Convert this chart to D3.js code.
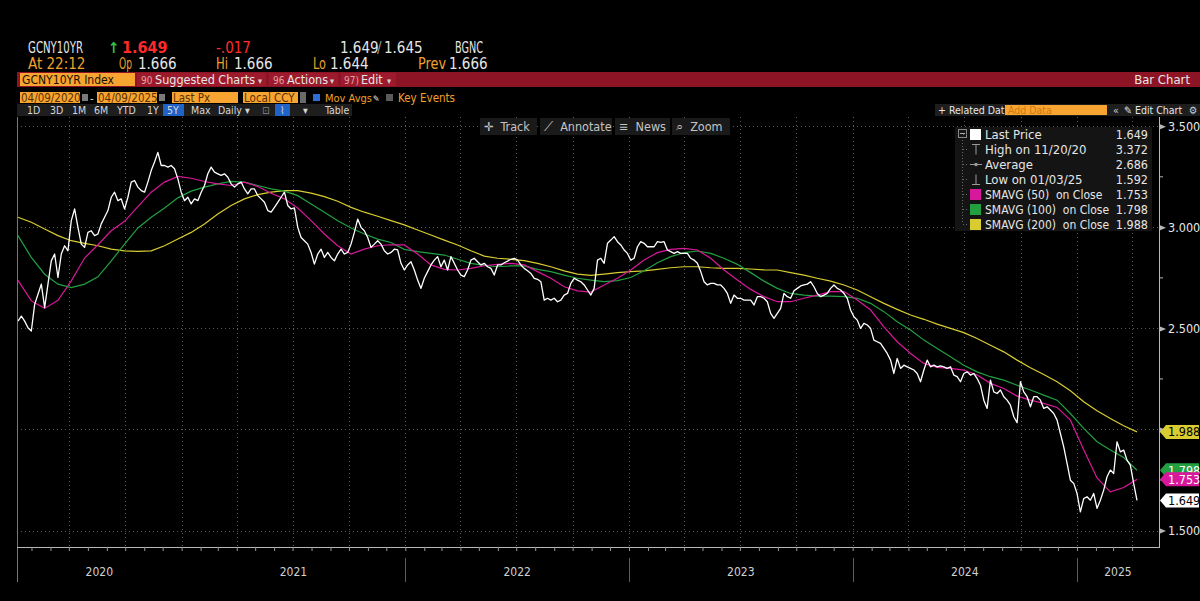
<!DOCTYPE html>
<html><head><meta charset="utf-8">
<script src="https://cdn.jsdelivr.net/npm/d3@7"></script>
<style>
html,body{margin:0;padding:0;background:#000;overflow:hidden;}
svg{display:block;}
text{font-family:'Liberation Sans Narrow','DejaVu Sans Condensed','Roboto Condensed',Roboto,sans-serif;white-space:pre;}
</style></head><body>
<svg id="c" width="1200" height="601"></svg>
<script>
// ---------- DATA ----------
const startDate = "2020-04-09";
const endDate = "2025-04-09";

// GCNY10YR last price, evenly spaced samples from startDate to endDate
const lastPrice = [
2.536,2.561,2.536,2.503,2.487,2.619,2.669,2.719,2.603,2.719,
2.834,2.868,2.752,2.868,2.909,2.884,3.033,3.091,3.000,2.917,
2.901,2.975,2.983,2.959,2.967,3.017,3.050,3.083,3.149,3.174,
3.132,3.141,3.091,3.149,3.224,3.232,3.199,3.182,3.174,3.224,
3.281,3.323,3.371,3.306,3.306,3.298,3.306,3.290,3.240,3.174,
3.132,3.149,3.116,3.141,3.132,3.174,3.207,3.265,3.298,3.273,
3.265,3.257,3.265,3.248,3.215,3.199,3.215,3.224,3.190,3.166,
3.190,3.190,3.157,3.141,3.124,3.083,3.075,3.099,3.124,3.149,
3.174,3.108,3.091,3.096,3.000,2.950,2.934,2.917,2.876,2.818,
2.868,2.892,2.851,2.876,2.851,2.834,2.868,2.892,2.868,2.876,
2.917,2.975,3.041,3.000,2.983,2.950,2.901,2.917,2.934,2.917,
2.884,2.868,2.876,2.892,
2.888,2.822,2.789,2.814,2.830,2.789,2.739,2.698,2.748,2.781,
2.814,2.838,2.855,2.805,2.838,2.789,2.855,2.822,2.789,2.764,
2.756,2.789,2.838,2.847,2.830,2.814,2.822,2.805,2.797,2.764,
2.814,2.814,2.825,2.833,2.842,2.847,2.838,2.814,2.797,2.785,
2.772,2.748,2.743,2.731,2.640,2.649,2.640,2.649,2.632,2.640,
2.665,2.673,2.723,2.748,2.739,2.731,2.715,2.690,2.665,2.698,
2.838,2.847,2.822,2.921,2.937,2.954,2.929,2.913,2.888,2.871,
2.838,2.847,2.904,2.929,2.921,2.904,2.904,2.904,2.929,2.926,
2.929,2.888,2.880,2.871,2.880,2.871,2.871,2.871,2.847,2.838,
2.822,2.781,2.731,2.715,2.723,2.723,2.715,2.715,2.698,2.673,
2.624,2.665,2.649,2.649,2.640,2.640,2.640,2.616,2.657,2.657,
2.649,2.632,
2.574,2.550,2.574,2.599,2.673,2.657,2.649,2.686,2.698,2.710,
2.715,2.719,2.731,2.706,2.673,2.657,2.665,2.673,2.698,2.715,
2.698,2.690,2.673,2.649,2.591,2.558,2.541,2.500,2.525,2.517,
2.500,2.442,2.434,2.426,2.401,2.376,2.343,2.277,2.351,2.302,
2.318,2.310,2.302,2.294,2.277,2.236,2.294,2.343,2.310,2.318,
2.310,2.314,2.310,2.302,2.310,2.269,2.261,2.236,2.277,2.285,
2.269,2.277,2.252,2.219,2.145,2.104,2.244,2.186,2.178,2.195,
2.162,2.145,2.120,2.063,2.033,2.236,2.186,2.162,2.112,2.162,
2.162,2.145,2.104,2.112,2.096,2.079,2.046,1.980,1.914,1.832,
1.749,1.733,1.683,1.592,1.658,1.667,1.650,1.683,1.610,1.650,
1.700,1.766,1.799,1.782,1.939,1.889,1.898,1.848,1.823,1.733,
1.649
];

// Moving averages, evenly spaced samples from startDate to endDate
const smavg50 = [
2.738,2.636,2.599,2.639,2.735,2.848,2.914,2.983,3.030,3.103,3.174,3.224,3.252,3.243,3.227,3.215,3.207,3.224,3.202,3.169,3.141,3.096,3.033,2.967,2.909,2.868,2.892,2.909,2.914,
2.913,2.868,2.814,2.792,2.789,2.797,2.810,2.817,2.822,2.814,2.781,2.748,2.706,2.686,2.680,2.715,2.748,2.789,2.838,2.875,2.891,2.896,2.888,2.847,2.789,2.739,2.693,2.657,
2.632,2.632,2.649,2.665,2.682,2.682,2.640,2.591,2.508,2.434,2.376,2.327,2.307,2.302,2.294,2.269,2.228,2.203,2.165,2.145,2.129,2.109,2.046,1.900,1.760,1.691,1.713,1.753
];
const smavg100 = [
2.959,2.851,2.768,2.719,2.702,2.719,2.755,2.834,2.917,2.997,3.050,3.096,3.146,3.179,3.199,3.215,3.227,3.224,3.207,3.190,3.179,3.157,3.116,3.075,3.033,2.997,2.967,2.942,2.925,
2.891,2.880,2.871,2.863,2.842,2.822,2.812,2.805,2.809,2.809,2.792,2.781,2.764,2.748,2.739,2.731,2.736,2.752,2.785,2.825,2.855,2.875,2.883,2.871,2.847,2.817,2.776,2.734,
2.698,2.673,2.665,2.660,2.660,2.657,2.649,2.624,2.583,2.533,2.492,2.442,2.401,2.360,2.318,2.285,2.261,2.244,2.219,2.195,2.170,2.145,2.079,2.005,1.939,1.898,1.861,1.798
];
const smavg200 = [
3.050,3.025,2.992,2.959,2.934,2.921,2.909,2.892,2.884,2.881,2.884,2.909,2.942,2.975,3.017,3.066,3.108,3.141,3.162,3.174,3.182,3.182,3.169,3.152,3.129,3.099,3.075,3.055,3.033,
3.012,2.987,2.962,2.937,2.913,2.884,2.858,2.847,2.842,2.835,2.822,2.805,2.785,2.769,2.762,2.769,2.776,2.781,2.785,2.792,2.800,2.805,2.805,2.800,2.797,2.797,2.794,2.790,
2.789,2.776,2.764,2.748,2.734,2.715,2.690,2.657,2.624,2.594,2.566,2.545,2.521,2.500,2.479,2.450,2.417,2.384,2.343,2.305,2.272,2.236,2.191,2.137,2.092,2.054,2.018,1.988
];

const yTicks = [1.5, 2.0, 2.5, 3.0, 3.5];
const yMinorTicks = [1.75, 2.25, 2.75, 3.25];
const yearLabels = ["2020","2021","2022","2023","2024","2025"];

const legendLabels = ["Last Price","High on 11/20/20","Average","Low on 01/03/25","SMAVG (50)  on Close","SMAVG (100)  on Close","SMAVG (200)  on Close"];
const legendValues = ["1.649","3.372","2.686","1.592","1.753","1.798","1.988"];

// ---------- STYLE ----------
const C = {
  price:"#ffffff", ma50:"#d8189a", ma100:"#22a040", ma200:"#d8cc30",
  amber:"#f0a02c", orange:"#f7a530", red:"#8c1424", redSeg:"#9c1a2c",
  grid:"#5a5a5a", axis:"#b8b8b8", txt:"#e6e6e6"
};

const svg = d3.select("#c");
const parse = d3.timeParse("%Y-%m-%d");
const t0 = parse(startDate), t1 = parse(endDate);
const X0 = 18, X1 = 1137, PLOT_L = 17, PLOT_R = 1159, PLOT_T = 117, PLOT_B = 547;

const x = d3.scaleTime().domain([t0, t1]).range([X0, X1]);
const y = d3.scaleLinear().domain([1.5, 3.5]).range([530.5, 126.3]);

function series(vals){
  const n = vals.length;
  return vals.map((v,i)=>({d:new Date(+t0 + (t1 - t0) * i/(n-1)), v}));
}

// ---------- HEADER ----------
const H = svg.append("g");
function txt(g, xx, yy, s, color, size, opts={}){
  const t = g.append("text").attr("x",xx).attr("y",yy).text(s)
    .attr("fill",color).attr("font-size",size);
  if(opts.anchor) t.attr("text-anchor",opts.anchor);
  if(opts.weight) t.attr("font-weight",opts.weight);
  if(opts.len) t.attr("textLength",opts.len).attr("lengthAdjust","spacingAndGlyphs");
  return t;
}
// row 1
txt(H,28,53,"GCNY10YR",C.txt,15,{len:55});
txt(H,108,53,"↑","#2fc34a",15,{weight:"bold"});
txt(H,122,53,"1.649","#ff2a2a",16,{weight:"bold"});
txt(H,216,53,"-.017","#ff2a2a",15);
txt(H,340,53,"1.649",C.txt,15);
txt(H,377,53,"/","#9a9a9a",15);
txt(H,384,53,"1.645",C.txt,15);
txt(H,455,53,"BGNC",C.txt,15,{len:28});
// row 2
txt(H,28,69,"At 22:12",C.amber,15);
txt(H,119,69,"Op",C.amber,15,{len:13}); txt(H,138,69,"1.666",C.txt,15);
txt(H,216,69,"Hi",C.amber,15,{len:12}); txt(H,234,69,"1.666",C.txt,15);
txt(H,313,69,"Lo",C.amber,15,{len:13}); txt(H,330,69,"1.644",C.txt,15);
txt(H,418,69,"Prev",C.amber,15,{len:28}); txt(H,449,69,"1.666",C.txt,15);

// red bar
H.append("rect").attr("x",17).attr("y",72).attr("width",1183).attr("height",15).attr("fill",C.red);
H.append("rect").attr("x",20).attr("y",73).attr("width",115).attr("height",13).attr("fill",C.orange);
txt(H,22,84,"GCNY10YR Index","#1a1000",13,{len:92});
[[137,266],[269,338],[341,396]].forEach(s=>{
  H.append("rect").attr("x",s[0]).attr("y",73).attr("width",s[1]-s[0]).attr("height",13).attr("fill",C.redSeg);
});
txt(H,141,84,"90",'#e0a0a8',10); txt(H,155,84,"Suggested Charts",C.txt,12.5); txt(H,258,84,"▾",'#d0d0d0',9);
txt(H,273,84,"96",'#e0a0a8',10); txt(H,287,84,"Actions",C.txt,12.5); txt(H,330,84,"▾",'#d0d0d0',9);
txt(H,344,84,"97)",'#e0a0a8',10); txt(H,361,84,"Edit",C.txt,12.5); txt(H,387,84,"▾",'#d0d0d0',9);
txt(H,1190,84,"Bar Chart",C.txt,13,{anchor:"end"});

// row 3 (fields)
function field(x0,x1,label){
  H.append("rect").attr("x",x0).attr("y",92).attr("width",x1-x0).attr("height",11).attr("fill",C.orange);
  txt(H,x0+1,101.5,label,"#5a3000",11.5);
}
field(20,80,"04/09/2020");
H.append("rect").attr("x",82).attr("y",94).attr("width",6).attr("height",7).attr("fill","#7a7a7a");
txt(H,90,101.5,"-",C.txt,11);
field(97,157,"04/09/2025");
H.append("rect").attr("x",159).attr("y",94).attr("width",6).attr("height",7).attr("fill","#7a7a7a");
field(172,238,"Last Px");
field(243,298,"Local CCY");
H.append("rect").attr("x",300).attr("y",92).attr("width",6).attr("height",11).attr("fill","#6a6a6a");
H.append("rect").attr("x",313).attr("y",94).attr("width",7).attr("height",7).attr("fill","#2d6fd6");
txt(H,325,101.5,"Mov Avgs",C.amber,11);
txt(H,373,101.5,"✎",C.txt,9);
H.append("rect").attr("x",386).attr("y",94).attr("width",7).attr("height",7).attr("fill","#5a5a5a");
txt(H,398,101.5,"Key Events",C.amber,11.5);

// row 4 (toolbar)
H.append("rect").attr("x",17).attr("y",104).attr("width",335).attr("height",12).attr("fill","#1e1e1e");
H.append("rect").attr("x",935).attr("y",104).attr("width",265).attr("height",12).attr("fill","#1e1e1e");
H.append("rect").attr("x",163).attr("y",104).attr("width",21).attr("height",12).attr("fill","#1f63c8");
H.append("rect").attr("x",275).attr("y",104).attr("width",15).attr("height",12).attr("fill","#1f63c8");
[["1D",27],["3D",50],["1M",72],["6M",94],["YTD",117],["1Y",147],["5Y",167],["Max",191],["Daily ▾",218],["⌇",280],["▾",303],["Table",325]]
  .forEach(d=>txt(H,d[1],113.5,d[0],"#d6d6d6",10.5));
txt(H,262,113.5,"⊡","#888",10);
txt(H,938,113.5,"+ Related Dat",C.txt,10.5);
H.append("rect").attr("x",1005).attr("y",105).attr("width",102).attr("height",10).attr("fill",C.orange);
txt(H,1008,113.5,"Add Data","#d07a10",10.5);
txt(H,1113,113.5,"«","#ccc",10.5);
txt(H,1124,113.5,"✎ Edit Chart",C.txt,10.5);
txt(H,1189,113.5,"⚙","#ccc",10.5);

// ---------- GRID ----------
const G = svg.append("g");
const quarters = d3.timeMonth.every(3).range(d3.timeDay.offset(t0,1), d3.timeDay.offset(t1,1));
G.selectAll("line.vg").data(quarters).join("line")
  .attr("x1",d=>Math.round(x(d))+0.5).attr("x2",d=>Math.round(x(d))+0.5).attr("y1",PLOT_T).attr("y2",PLOT_B)
  .attr("stroke",C.grid).attr("stroke-width",1).attr("stroke-dasharray","1,3");
G.selectAll("line.hg").data(yTicks).join("line")
  .attr("x1",PLOT_L).attr("x2",PLOT_R).attr("y1",d=>Math.round(y(d))+0.5).attr("y2",d=>Math.round(y(d))+0.5)
  .attr("stroke",C.grid).attr("stroke-width",1).attr("stroke-dasharray","1,3");

// toolbar inside plot
const tb = [["✛  Track",480,537],["⟋  Annotate",540,612],["≡  News",615,670],["⌕  Zoom",672,730]];
tb.forEach(d=>{
  G.append("rect").attr("x",d[1]).attr("y",118).attr("width",d[2]-d[1]).attr("height",17).attr("fill","#1a1a1a");
  txt(G,d[1]+4,131,d[0],"#c4c4c4",12.5);
});

// ---------- LINES ----------
const line = d3.line().x(d=>x(d.d)).y(d=>y(d.v));
const L = svg.append("g");
L.append("path").datum(series(smavg200)).attr("d",line).attr("fill","none").attr("stroke",C.ma200).attr("stroke-width",1.2);
L.append("path").datum(series(smavg100)).attr("d",line).attr("fill","none").attr("stroke",C.ma100).attr("stroke-width",1.2);
L.append("path").datum(series(smavg50)).attr("d",line).attr("fill","none").attr("stroke",C.ma50).attr("stroke-width",1.2);
L.append("path").datum(series(lastPrice)).attr("d",line).attr("fill","none").attr("stroke",C.price).attr("stroke-width",1.3).attr("stroke-linejoin","round");

// ---------- AXES ----------
const A = svg.append("g");
A.append("line").attr("x1",PLOT_L+0.5).attr("x2",PLOT_L+0.5).attr("y1",PLOT_T).attr("y2",582).attr("stroke","#777");
const yAxis = d3.axisRight(y).tickValues(yTicks).tickSize(0).tickFormat(d3.format(".3f"));
const ya = A.append("g").attr("transform",`translate(${PLOT_R},0)`).call(yAxis);
ya.select(".domain").attr("d",`M0.5,${PLOT_T}V${PLOT_B}`).attr("stroke",C.axis);
ya.selectAll("text").attr("fill",C.txt).attr("font-size",12.5).attr("x",9)
  .style("font-family","'Liberation Sans Narrow','DejaVu Sans Condensed',Roboto,sans-serif");
ya.selectAll(".tick").each(function(){
  d3.select(this).append("path").attr("d","M1,-2.5L7,0L1,2.5Z").attr("fill",C.axis);
});
A.selectAll("line.ymin").data(yMinorTicks).join("line")
  .attr("x1",PLOT_R).attr("x2",PLOT_R+4).attr("y1",d=>y(d)).attr("y2",d=>y(d)).attr("stroke",C.axis);

A.append("line").attr("x1",PLOT_L).attr("x2",PLOT_R+1).attr("y1",PLOT_B+0.5).attr("y2",PLOT_B+0.5).attr("stroke",C.axis);
const months = d3.timeMonth.range(t0, d3.timeDay.offset(t1,1));
const xAxis = d3.axisBottom(x).tickValues(months).tickSize(4).tickFormat("");
const xa = A.append("g").attr("transform",`translate(0,${PLOT_B})`).call(xAxis);
xa.select(".domain").remove();
xa.selectAll("line").attr("stroke","#9a9a9a");
const years = d3.timeYear.range(d3.timeYear.offset(t0,1), t1);
A.selectAll("line.ysep").data(years).join("line")
  .attr("x1",d=>Math.round(x(d))+0.5).attr("x2",d=>Math.round(x(d))+0.5).attr("y1",558).attr("y2",582)
  .attr("stroke","#5c5c5c");
const yearBounds = yearLabels.map(s=>{
  const a = parse(s+"-01-01"), b = parse((+s+1)+"-01-01");
  return {s, l:Math.max(x(a),PLOT_L), r:Math.min(x(b),PLOT_R)};
});
A.selectAll("text.yl").data(yearBounds).join("text")
  .attr("x",d=>(d.l+d.r)/2).attr("y",576).attr("text-anchor","middle")
  .attr("fill","#d0d0d0").attr("font-size",12).text(d=>d.s);

// ---------- LAST VALUE TAGS ----------
const tags = [
  {v:smavg200[smavg200.length-1], fill:C.ma200, tc:"#000"},
  {v:smavg100[smavg100.length-1], fill:C.ma100, tc:"#fff"},
  {v:smavg50[smavg50.length-1], fill:C.ma50, tc:"#fff"},
  {v:lastPrice[lastPrice.length-1], fill:"#ffffff", tc:"#000"}
];
ya.selectAll(".tick").each(function(d){
  if(tags.some(t=>Math.abs(y(t.v)-y(d))<12)) d3.select(this).select("text").remove();
});
const T = svg.append("g");
tags.forEach(t=>{
  const yy = y(t.v), x0 = PLOT_R+1;
  T.append("path").attr("d",`M${x0},${yy}L${x0+6},${yy-7}H${x0+39}V${yy+7}H${x0+6}Z`).attr("fill",t.fill);
  txt(T,x0+8,yy+4.5,d3.format(".3f")(t.v),t.tc,12.5);
});

// ---------- LEGEND ----------
const LG = svg.append("g");
LG.append("rect").attr("x",955).attr("y",127).attr("width",197).attr("height",104).attr("fill","#161616").attr("opacity",0.92);
LG.append("line").attr("x1",962.5).attr("x2",962.5).attr("y1",137).attr("y2",224).attr("stroke","#666").attr("stroke-dasharray","1,2");
LG.append("rect").attr("x",958.5).attr("y",129.5).attr("width",8).attr("height",8).attr("fill","#161616").attr("stroke","#888");
LG.append("line").attr("x1",960).attr("x2",965).attr("y1",133.5).attr("y2",133.5).attr("stroke","#aaa");
const iconColors = ["#ffffff",null,null,null,C.ma50,C.ma100,C.ma200];
legendLabels.forEach((s,i)=>{
  const yy = 134.5 + i*15;
  LG.append("line").attr("x1",963).attr("x2",968).attr("y1",yy).attr("y2",yy).attr("stroke","#666").attr("stroke-dasharray","1,2");
  if(iconColors[i]){
    LG.append("rect").attr("x",970).attr("y",yy-5.5).attr("width",11).attr("height",11).attr("fill",iconColors[i]);
  } else if(i===1){
    LG.append("path").attr("d",`M972,${yy-5}H980M976,${yy-5}V${yy+5}`).attr("stroke","#9a9a9a").attr("fill","none");
  } else if(i===2){
    LG.append("path").attr("d",`M970,${yy}H982`).attr("stroke","#9a9a9a");
    LG.append("circle").attr("cx",976).attr("cy",yy).attr("r",1.8).attr("fill","#9a9a9a");
  } else if(i===3){
    LG.append("path").attr("d",`M972,${yy+5}H980M976,${yy+5}V${yy-5}`).attr("stroke","#9a9a9a").attr("fill","none");
  }
  txt(LG,985,yy+4.5,s,C.txt,i>=4 ? 12 : 13);
  txt(LG,1148,yy+4.5,legendValues[i],C.txt,12.5,{anchor:"end"});
});
</script>
</body></html>
